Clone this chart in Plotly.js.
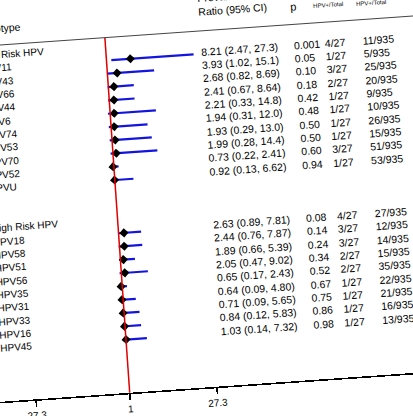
<!DOCTYPE html>
<html>
<head>
<meta charset="utf-8">
<script src="https://cdn.plot.ly/plotly-3.0.1.min.js"></script>
<style>
  html, body { margin:0; padding:0; width:413px; height:416px; overflow:hidden; background:#fff; }
  #wrap { position:absolute; left:-40px; top:-40px; width:480px; height:480px;
          transform-origin:246px 248px; transform:rotate(-4deg); }
</style>
</head>
<body>
<div id="wrap"><div id="chart" style="width:480px;height:480px;"></div></div>
<script>
// ---- data (one entry per row, top to bottom) ----
const labels = ["Low Risk HPV","HPV11","HPV43","HPV66","HPV44","HPV6","HPV74","HPV53","HPV70","HPV52","HPVU","","",
                "High Risk HPV","HPV18","HPV58","HPV51","HPV56","HPV35","HPV31","HPV33","HPV16","HPV45"];
const ratio = [null,8.21,3.93,2.68,2.41,2.21,1.94,1.93,1.99,0.73,0.92,null,null,
               null,2.63,2.44,1.89,2.05,0.65,0.64,0.71,0.84,1.03];
const ciLow = [null,2.47,1.02,0.82,0.67,0.33,0.31,0.29,0.28,0.22,0.13,null,null,
               null,0.89,0.76,0.66,0.47,0.17,0.09,0.09,0.12,0.14];
const ciHigh = [null,27.3,15.1,8.69,8.64,14.8,12.0,13.0,14.4,2.41,6.62,null,null,
                null,7.81,7.87,5.39,9.02,2.43,4.80,5.65,5.83,7.32];
const pValues = ["","0.001","0.05","0.10","0.18","0.42","0.48","0.50","0.50","0.60","0.94","","",
                 "","0.08","0.14","0.24","0.34","0.52","0.67","0.75","0.86","0.98"];
const cases = ["","4/27","1/27","3/27","2/27","1/27","1/27","1/27","1/27","3/27","1/27","","",
               "","4/27","3/27","3/27","2/27","2/27","1/27","1/27","1/27","1/27"];
const controls = ["","11/935","5/935","25/935","20/935","9/935","10/935","26/935","15/935","51/935","53/935","","",
                  "","27/935","12/935","14/935","15/935","35/935","22/935","21/935","16/935","13/935"];
const tickVals = [-27.3, 1, 27.3];
const tickText = ["27.3", "1", "27.3"];

// ---- build ----
const FONT = "Liberation Sans";
const W = 480, OFF = 40, T = 71, B = 53;   // div size, offset, margins
const px = u => (u + OFF) / W;             // paper x from layout pixel
const py = v => (W - B - (v + OFF)) / (W - T - B);  // paper y from layout pixel
const fmt = v => v >= 10 ? v.toFixed(1) : v.toFixed(2);

const xs = [], ys = [], ep = [], em = [];
ratio.forEach((r, i) => {
  if (r !== null) { xs.push(r); ys.push(i); ep.push(ciHigh[i] - r); em.push(r - ciLow[i]); }
});

const trace = {
  type: "scatter", mode: "markers", x: xs, y: ys,
  marker: { symbol: "diamond", size: 7, color: "#000" },
  error_x: { type: "data", symmetric: false, array: ep, arrayminus: em,
             color: "rgb(20,20,225)", thickness: 2.2, width: 0 },
  hoverinfo: "skip", showlegend: false, cliponaxis: false
};

const ann = [];
const txt = (text, xpix, y, size, extra) => Object.assign({
  text: text, xref: "paper", x: px(xpix), yref: "y", y: y,
  xanchor: "left", yanchor: "middle", showarrow: false, align: "left",
  borderpad: 0, borderwidth: 0,
  font: { family: FONT, size: size, color: "#000" }
}, extra || {});
const head = (text, xpix, ypix, size, extra) => Object.assign(
  txt(text, xpix, 0, size), { yref: "paper", y: py(ypix) }, extra || {});

labels.forEach((l, i) => { if (l) ann.push(txt(l, -9, i, 10)); });
ratio.forEach((r, i) => {
  if (r === null) return;
  ann.push(txt(fmt(r) + " (" + fmt(ciLow[i]) + ", " + fmt(ciHigh[i]) + ")", 212, i, 10.5, {yshift: 2}));
  ann.push(txt(pValues[i], 305, i, 10.5, {yshift: 2}));
  ann.push(txt(cases[i], 336, i, 10.5, {yshift: 2}));
  ann.push(txt(controls[i], 374, i, 10.5, {yshift: 2}));
});
// headers
ann.push(head("Genotype", -12, 13.8, 10.5));
ann.push(head("Prevalence<br>Ratio (95% CI)", 212, 5.0, 10.5));
ann.push(head("p", 304, 12.8, 11));
ann.push(head("HPV+/Total", 326.5, 14.3, 6));
ann.push(head("HPV+/Total", 370, 15.3, 6));
ann.push(head("Prevalence Ratio", 196, 419, 10.5, {xanchor: "right"}));

const layout = {
  width: W, height: W,
  margin: { l: 0, r: 0, t: T, b: B, pad: 0 },
  paper_bgcolor: "#fff", plot_bgcolor: "#fff",
  showlegend: false,
  font: { family: FONT },
  xaxis: {
    range: [-46.29, 98.29], showgrid: false, zeroline: false, automargin: false,
    showline: true, linecolor: "#000", linewidth: 1.6,
    ticks: "outside", ticklen: 6, tickwidth: 1.4, tickcolor: "#000",
    tickmode: "array", tickvals: tickVals, ticktext: tickText,
    tickfont: { family: FONT, size: 10, color: "#000" }, fixedrange: true
  },
  yaxis: {
    range: [26.0, -0.713], visible: false, showgrid: false, zeroline: false,
    automargin: false, fixedrange: true
  },
  shapes: [
    { type: "line", xref: "x", x0: 1, x1: 1, yref: "paper", y0: 0, y1: 1,
      line: { color: "#e00000", width: 1.5 } },
    { type: "line", xref: "paper", x0: 0, x1: 1, yref: "paper", y0: 1, y1: 1,
      line: { color: "#444", width: 1 } }
  ],
  annotations: ann
};

Plotly.newPlot("chart", [trace], layout, { displayModeBar: false, staticPlot: true });
</script>
</body>
</html>
